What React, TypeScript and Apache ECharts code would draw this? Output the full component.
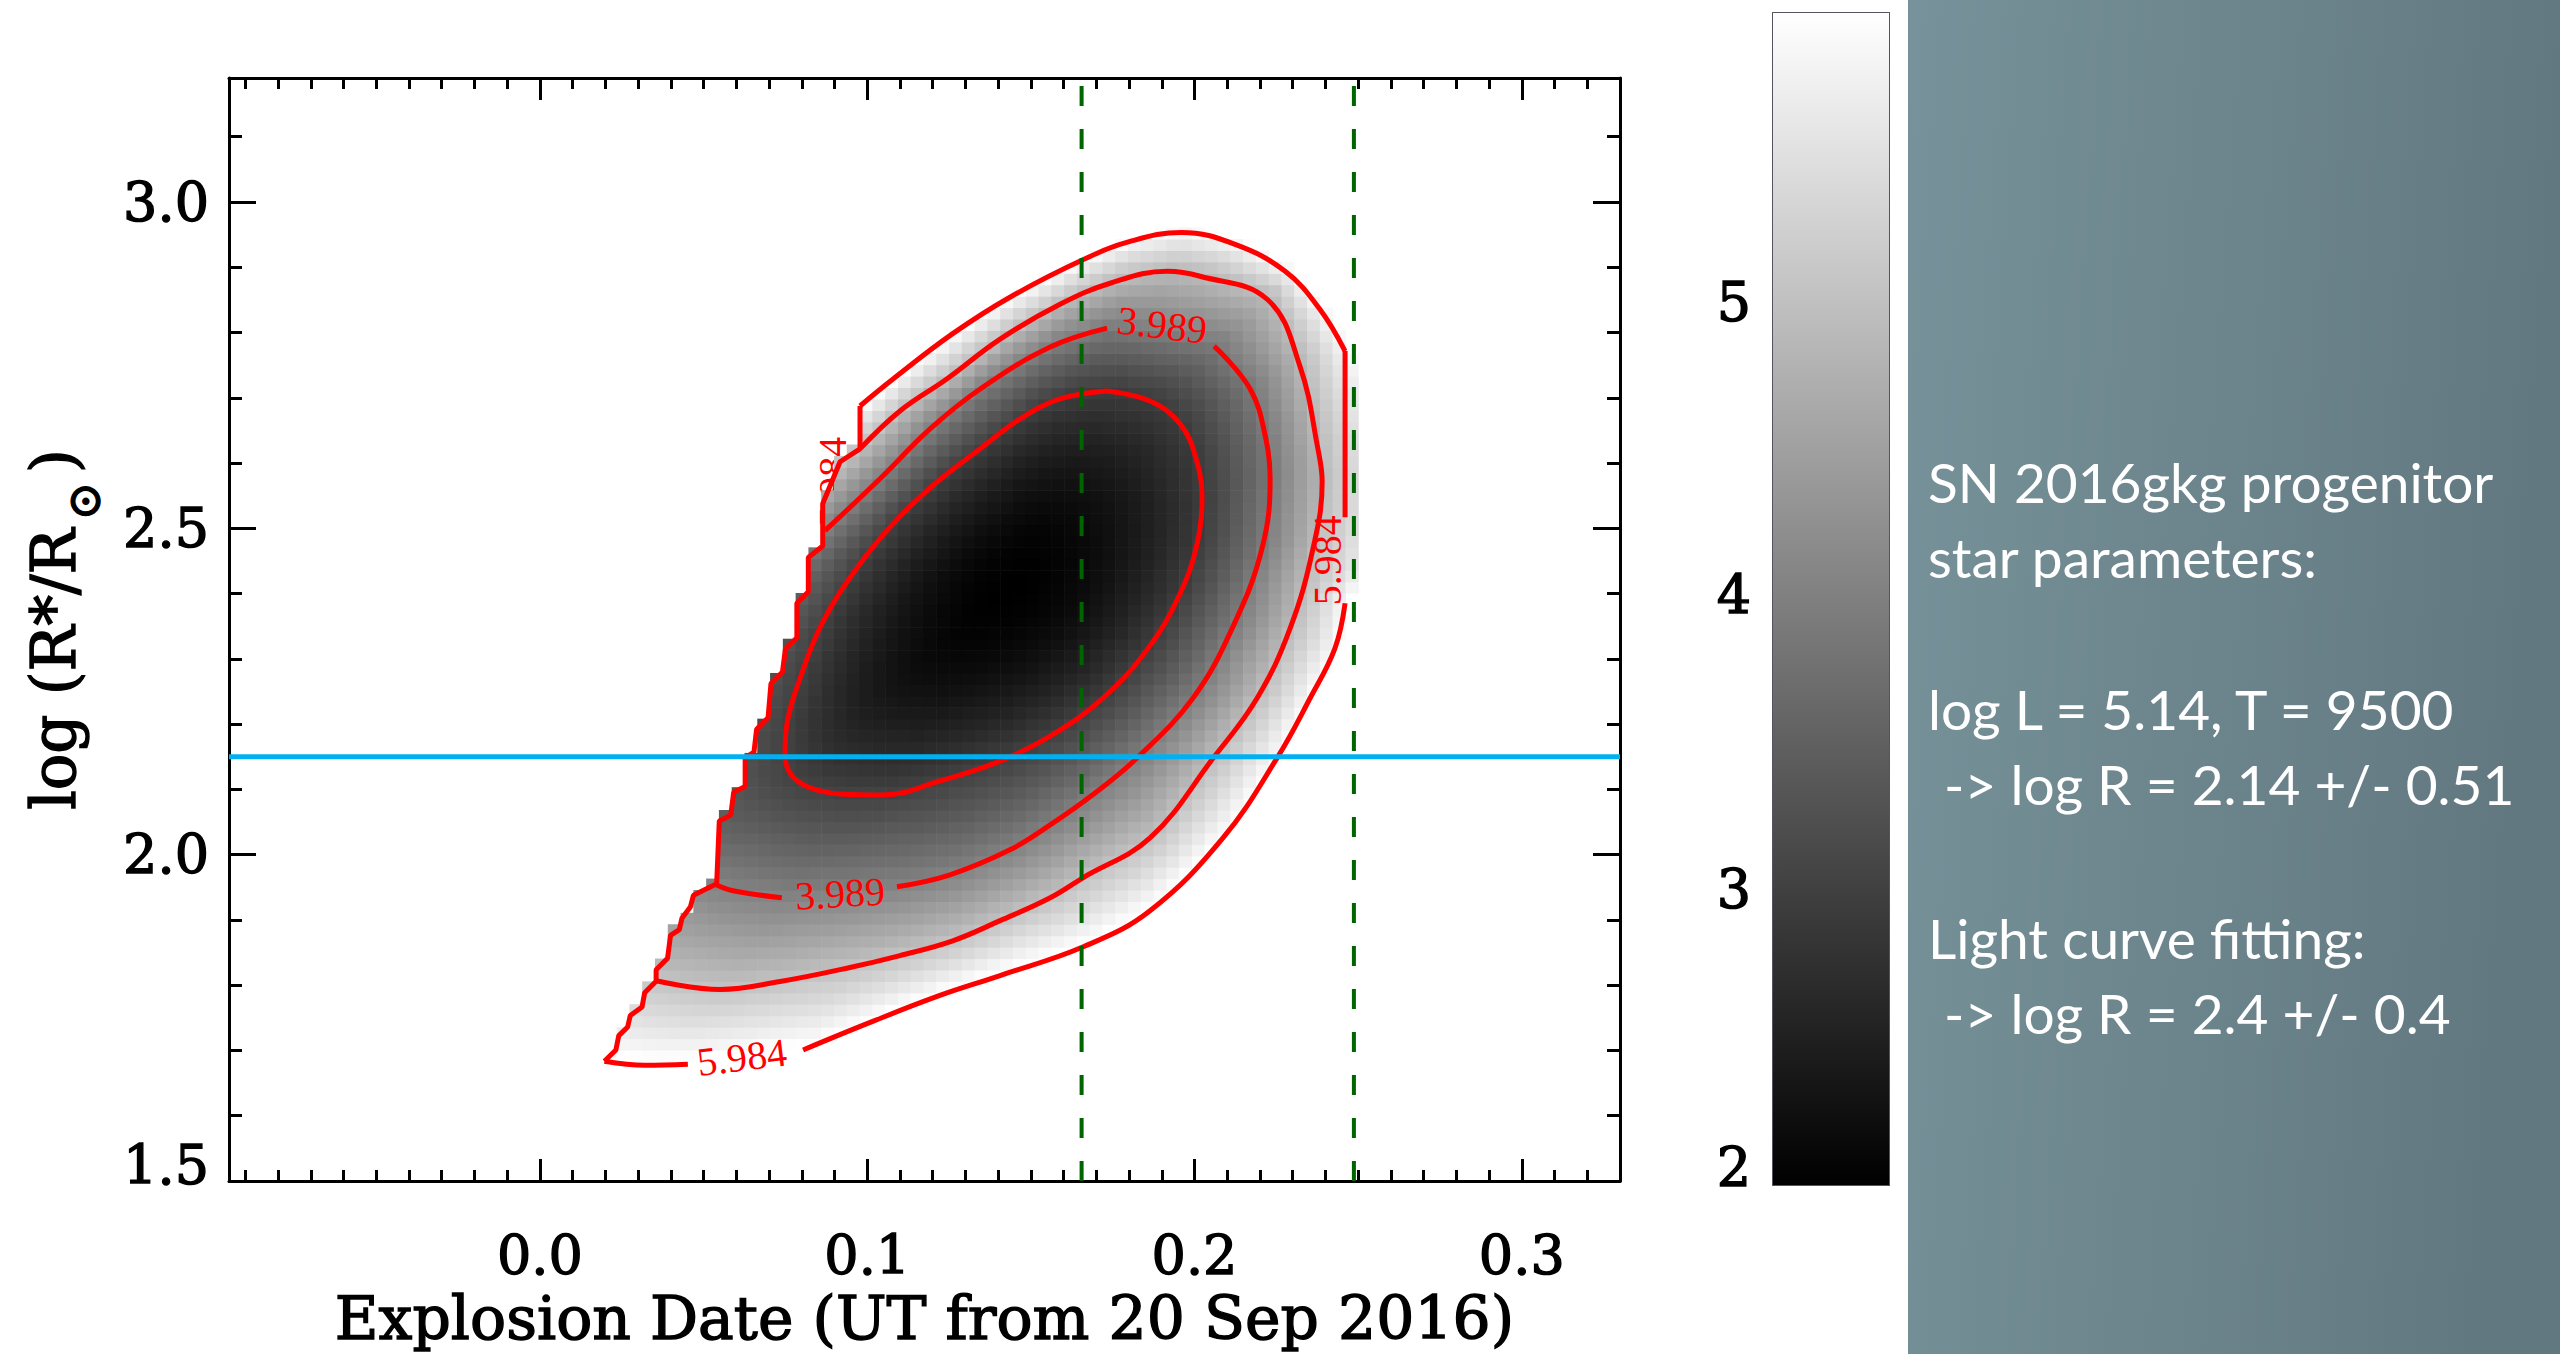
import React, { useEffect, useRef } from "react";
import * as echarts from "echarts";

// ---- axes -------------------------------------------------------------
const X_MIN = -0.095;
const X_MAX = 0.33;
const Y_MIN = 1.5;
const Y_MAX = 3.19;
const xMajorTicks = [0.0, 0.1, 0.2, 0.3];
const yMajorTicks = [1.5, 2.0, 2.5, 3.0];
const xMinorTicks: number[] = [];
for (let k = -9; k <= 32; k++) if (k % 10 !== 0) xMinorTicks.push(k / 100);
const yMinorTicks: number[] = [];
for (let k = 16; k <= 31; k++) if (k % 5 !== 0) yMinorTicks.push(k / 10);

// ---- colour bar -------------------------------------------------------
const barMin = 1.994;
const barMax = 5.984;
const barTicks = [2, 3, 4, 5];
const barMinorTicks = [2.5, 3.5, 4.5, 5.5];

// ---- chi-square surface ----------------------------------------------
const chiMin = 1.994;
const chiMinAt = [0.1415, 2.4];
const levels = [2.9915, 3.989, 4.9865, 5.984];

// model grid: explosion date step and log R step
const gridDX = 0.25 / 64;
const gridNX = 64;
const gridY0 = 1.6484;
const gridDY = 0.0175;
const gridNY = 77;

// innermost contour (closed)
const contour2991 = [
  [0.1733, 2.7104], [0.1589, 2.6982], [0.1467, 2.6676], [0.1345, 2.6218], [0.1207, 2.5683],
  [0.1082, 2.5087], [0.0963, 2.4353], [0.0862, 2.3543], [0.0795, 2.2703], [0.0755, 2.2015],
  [0.0749, 2.1572], [0.0764, 2.1251], [0.0819, 2.1037], [0.0917, 2.093], [0.1048, 2.0915],
  [0.1222, 2.1129], [0.1406, 2.1434], [0.1559, 2.1816], [0.172, 2.2397], [0.1858, 2.3161],
  [0.1956, 2.4002], [0.2008, 2.4766], [0.2023, 2.5438], [0.2005, 2.6065], [0.1956, 2.66],
  [0.1864, 2.6951], [0.1733, 2.7104],
];

// 3.989 contour, broken at its two labels
const contour3989a = [[0.054, 1.9534], [0.059, 1.9447], [0.0739, 1.934]];
const contour3989b = [
  [0.1091, 1.9508], [0.1253, 1.9692], [0.1436, 2.0074], [0.1559, 2.0456], [0.1696, 2.0945],
  [0.1824, 2.148], [0.1995, 2.2397], [0.2115, 2.3467], [0.2206, 2.4689], [0.2231, 2.5759],
  [0.2218, 2.6371], [0.217, 2.7135], [0.206, 2.7792],
];
const contour3989c = [
  [0.1733, 2.8067], [0.1559, 2.7777], [0.1345, 2.7135], [0.1192, 2.6523], [0.1039, 2.5759],
  [0.0871, 2.4965],
];

// 4.987 contour (unlabelled)
const contour4987 = [
  [0.0978, 2.6218], [0.11, 2.6798], [0.1243, 2.7288], [0.1406, 2.7899], [0.1589, 2.8434],
  [0.1742, 2.8755], [0.1916, 2.8938], [0.2017, 2.8862], [0.2222, 2.851], [0.2322, 2.7486],
  [0.2377, 2.6218], [0.239, 2.5713], [0.2362, 2.4689], [0.2292, 2.3467], [0.2191, 2.2397],
  [0.2057, 2.148], [0.1864, 2.0257], [0.1659, 1.9646], [0.1559, 1.934], [0.1406, 1.8989],
  [0.1259, 1.8676], [0.11, 1.8454], [0.0947, 1.8271], [0.0734, 1.8057], [0.055, 1.7934],
  [0.0352, 1.8072],
];

// 5.984 contour pieces
const contour5984a = [
  [0.0978, 2.6875], [0.1079, 2.7288], [0.1259, 2.7975], [0.1436, 2.8541], [0.1662, 2.9122],
  [0.1803, 2.9397], [0.196, 2.9534], [0.2124, 2.9351], [0.2277, 2.8938], [0.2383, 2.8357],
  [0.246, 2.7716],
];
const contour5984edge = [[0.246, 2.7716], [0.246, 2.5168]];
const contour5984b = [
  [0.246, 2.3852], [0.2429, 2.3161], [0.2353, 2.2397], [0.2252, 2.148], [0.2087, 2.0257],
  [0.1864, 1.9142], [0.1662, 1.8592], [0.1406, 1.8148], [0.1222, 1.7843], [0.1009, 1.743],
  [0.0804, 1.7008],
];
const contour5984c = [[0.0452, 1.6788], [0.0321, 1.6773], [0.0197, 1.6834]];

// edge of the computed region (earliest allowed explosion date for each radius)
const dataEdge = [
  [0.0978, 2.6875], [0.0978, 2.6218], [0.0917, 2.602], [0.0864, 2.5377], [0.0864, 2.4729],
  [0.082, 2.4553], [0.082, 2.4028], [0.0785, 2.3852], [0.0785, 2.3325], [0.075, 2.315],
  [0.0741, 2.2799], [0.0706, 2.2623], [0.0697, 2.2097], [0.0662, 2.1922], [0.0654, 2.1572],
  [0.0627, 2.1483], [0.0627, 2.1044], [0.0592, 2.0957], [0.0583, 2.0606], [0.0548, 2.0517],
  [0.054, 1.9553], [0.0469, 1.9377], [0.046, 1.9203], [0.0434, 1.9027], [0.0426, 1.8851],
  [0.0399, 1.8764], [0.039, 1.8413], [0.0355, 1.8237], [0.0355, 1.8061], [0.032, 1.7885],
  [0.0312, 1.7667], [0.0276, 1.7535], [0.0268, 1.736], [0.0241, 1.7228], [0.0232, 1.7008],
  [0.0197, 1.6834],
];

// continuation of the contours outside the computed region (shading only)
const contour3989hidden = [
  [0.0749, 2.4353], [0.0627, 2.3589], [0.0504, 2.2703], [0.0397, 2.1786], [0.0306, 2.0869],
  [0.026, 2.0257], [0.0306, 1.9799], [0.0428, 1.9615],
];
const contour4987hidden = [
  [0.0184, 1.8347], [0.0061, 1.8882], [0.0061, 1.9799], [0.0153, 2.1021], [0.0306, 2.2397],
  [0.0489, 2.362], [0.0672, 2.4766], [0.0841, 2.5606],
];
const contour5984hidden = [
  [0.0016, 1.7048], [-0.0091, 1.7812], [-0.0076, 1.9035], [0.0031, 2.0716], [0.0184, 2.2244],
  [0.0367, 2.362], [0.0581, 2.4995], [0.0795, 2.6218],
];
const contour5984beyond = [[0.2521, 2.6982], [0.2573, 2.5912], [0.2582, 2.5148], [0.2542, 2.4307]];

// contour labels: position, rotation, level index
const contourLabels = [
  { at: [0.0617, 1.6895], rot: 0.12, level: 3, under: false },
  { at: [0.2405, 2.4511], rot: Math.PI / 2, level: 3, under: false },
  { at: [0.0895, 2.5713], rot: Math.PI / 2, level: 3, under: true },
  { at: [0.0917, 1.9402], rot: 0.06, level: 1, under: false },
  { at: [0.1901, 2.8113], rot: -0.12, level: 1, under: false },
];

// reference markers
const dateLines = [0.1655, 0.2487];
const luminosityLogR = 2.15;

// side panel text
const panelLines = [
  { text: "SN 2016gkg progenitor", y: 482, x: 1928 },
  { text: "star parameters:", y: 557, x: 1928 },
  { text: "log L = 5.14, T = 9500", y: 709, x: 1928 },
  { text: "-> log R = 2.14 +/- 0.51", y: 784, x: 1944 },
  { text: "Light curve fitting:", y: 938, x: 1928 },
  { text: "-> log R = 2.4 +/- 0.4", y: 1013, x: 1944 },
];

const SERIF = '"DejaVu Serif", "Liberation Serif", serif';
const LABEL_SERIF = '"Liberation Serif", "DejaVu Serif", serif';
const SANS = 'Lato, "Open Sans", sans-serif';

function grayOf(v: number) {
  let f = (v - barMin) / (barMax - barMin);
  f = Math.max(0, Math.min(1, f));
  const g = Math.round(f * 255);
  return `rgb(${g},${g},${g})`;
}

const KY = 0.2;
function rayParam(poly: number[][], cx: number, cy: number, dx: number, dy: number) {
  let best = Infinity;
  for (let k = 0; k < poly.length; k++) {
    const a = poly[k];
    const b = poly[(k + 1) % poly.length];
    const ax = a[0] - cx;
    const ay = (a[1] - cy) * KY;
    const ex = b[0] - a[0];
    const ey = (b[1] - a[1]) * KY;
    const den = dx * ey - dy * ex;
    if (Math.abs(den) < 1e-15) continue;
    const t = (ax * ey - ay * ex) / den;
    const u = (ax * dy - ay * dx) / den;
    if (u >= 0 && u <= 1 && t > 0 && t < best) best = t;
  }
  return best;
}

function edgeXAt(y: number) {
  if (y >= dataEdge[0][1]) return dataEdge[0][0];
  for (let k = 0; k < dataEdge.length - 1; k++) {
    const a = dataEdge[k];
    const b = dataEdge[k + 1];
    if (y <= a[1] && y >= b[1]) {
      const f = (a[1] - y) / (a[1] - b[1]);
      return a[0] + (b[0] - a[0]) * f;
    }
  }
  return dataEdge[dataEdge.length - 1][0];
}

function buildCells() {
  const polys = [
    contour2991,
    [...contour3989a, ...contour3989b, ...contour3989c, ...contour3989hidden],
    [...contour4987, ...contour4987hidden],
    [...contour5984a, ...contour5984beyond, ...contour5984b, ...contour5984c, ...contour5984hidden],
  ];
  const s = levels.map((l) => Math.sqrt(l - chiMin));
  const [cx, cy] = chiMinAt;
  const cells: number[][] = [];
  for (let i = 0; i < gridNX; i++) {
    for (let j = 0; j < gridNY; j++) {
      const x = i * gridDX;
      const y = gridY0 + j * gridDY;
      if (x < edgeXAt(y) - 0.35 * gridDX) continue;
      const dx = x - cx;
      const dy = (y - cy) * KY;
      let sv = 0;
      if (Math.abs(dx) + Math.abs(dy) > 1e-12) {
        const t = polys.map((p) => rayParam(p, cx, cy, dx, dy));
        if (t[0] >= 1) sv = s[0] / t[0];
        else {
          let k = 0;
          while (k < 3 && t[k + 1] < 1) k++;
          if (k < 3) sv = s[k] + ((s[k + 1] - s[k]) * (1 - t[k])) / (t[k + 1] - t[k]);
          else sv = s[3] + ((s[3] - s[2]) * (1 - t[3])) / (t[3] - t[2]);
        }
      }
      const v = chiMin + sv * sv;
      if (v >= levels[3]) continue;
      cells.push([x, y, v]);
    }
  }
  return cells;
}

function tickAxis(kind: "x" | "y", opts: any) {
  const base: any = {
    type: "value",
    splitLine: { show: false },
    axisLine: { show: false, onZero: false, lineStyle: { color: "#000", width: 3 } },
    axisTick: { show: true, inside: true, lineStyle: { color: "#000", width: 3 } },
    axisLabel: { show: false },
  };
  const o = { ...base, ...opts };
  o.axisLine = { ...base.axisLine, ...(opts.axisLine || {}) };
  o.axisTick = { ...base.axisTick, ...(opts.axisTick || {}) };
  o.axisLabel = { ...base.axisLabel, ...(opts.axisLabel || {}) };
  return o;
}

export default function App() {
  const ref = useRef<HTMLDivElement>(null);
  useEffect(() => {
    if (!ref.current) return;
    const chart = echarts.init(ref.current, null, { renderer: "svg" });
    const cells = buildCells();

    const heavy = { textBorderColor: "#000", textBorderWidth: 1.4 };
    const tickLabel = {
      show: true,
      color: "#000",
      fontFamily: SERIF,
      fontSize: 54,
      ...heavy,
    };
    // the lowest label of a vertical axis sits a little above its tick
    const lowRich = {
      lo: { fontFamily: SERIF, fontSize: 54, color: "#000", padding: [0, 0, 32, 0], ...heavy },
    };

    const xAxes = [
      tickAxis("x", {
        gridIndex: 0, min: X_MIN, max: X_MAX, position: "bottom",
        axisLine: { show: true },
        axisTick: { length: 22, customValues: xMajorTicks },
        axisLabel: { ...tickLabel, customValues: xMajorTicks, margin: 47, formatter: (v: number) => v.toFixed(1) },
        name: "Explosion Date (UT from 20 Sep 2016)",
        nameLocation: "middle",
        nameGap: 98,
        nameTextStyle: { color: "#000", fontFamily: SERIF, fontSize: 60, ...heavy },
      }),
      tickAxis("x", { gridIndex: 0, min: X_MIN, max: X_MAX, position: "bottom", axisTick: { length: 11, customValues: xMinorTicks } }),
      tickAxis("x", { gridIndex: 0, min: X_MIN, max: X_MAX, position: "top", axisLine: { show: true }, axisTick: { length: 22, customValues: xMajorTicks } }),
      tickAxis("x", { gridIndex: 0, min: X_MIN, max: X_MAX, position: "top", axisTick: { length: 11, customValues: xMinorTicks } }),
      tickAxis("x", { gridIndex: 1, min: 0, max: 1, position: "bottom", axisLine: { show: true, lineStyle: { width: 2 } }, axisTick: { show: false } }),
      tickAxis("x", { gridIndex: 1, min: 0, max: 1, position: "top", axisLine: { show: true, lineStyle: { width: 2 } }, axisTick: { show: false } }),
    ];

    const yAxes = [
      tickAxis("y", {
        gridIndex: 0, min: Y_MIN, max: Y_MAX, position: "left",
        axisLine: { show: true },
        axisTick: { length: 27, customValues: yMajorTicks },
        axisLabel: {
          ...tickLabel,
          customValues: yMajorTicks,
          margin: 20,
          formatter: (v: number) => (v === Y_MIN ? `{lo|${v.toFixed(1)}}` : v.toFixed(1)),
          rich: lowRich,
        },
        name: "{a|log (R*/R}{b|⊙}{a|)}",
        nameLocation: "middle",
        nameGap: 122,
        nameRotate: 90,
        nameTextStyle: {
          rich: {
            a: { fontFamily: SERIF, fontSize: 61, color: "#000", verticalAlign: "top", lineHeight: 84, ...heavy },
            b: { fontFamily: SERIF, fontSize: 46, color: "#000", verticalAlign: "top", lineHeight: 46, padding: [38, 9, 0, 8], ...heavy },
          },
        },
      }),
      tickAxis("y", { gridIndex: 0, min: Y_MIN, max: Y_MAX, position: "left", axisTick: { length: 13, customValues: yMinorTicks } }),
      tickAxis("y", { gridIndex: 0, min: Y_MIN, max: Y_MAX, position: "right", axisLine: { show: true }, axisTick: { length: 27, customValues: yMajorTicks } }),
      tickAxis("y", { gridIndex: 0, min: Y_MIN, max: Y_MAX, position: "right", axisTick: { length: 13, customValues: yMinorTicks } }),
      tickAxis("y", {
        gridIndex: 1, min: barMin, max: barMax, position: "left",
        axisLine: { show: true, lineStyle: { width: 2 } },
        axisTick: { length: 28, customValues: barTicks, lineStyle: { width: 1.5 } },
        axisLabel: {
          ...tickLabel,
          customValues: barTicks,
          margin: 22,
          formatter: (v: number) => (v === barTicks[0] ? `{lo|${v}}` : String(v)),
          rich: lowRich,
        },
      }),
      tickAxis("y", { gridIndex: 1, min: barMin, max: barMax, position: "left", axisTick: { length: 14, customValues: barMinorTicks, lineStyle: { width: 1.5 } } }),
      tickAxis("y", { gridIndex: 1, min: barMin, max: barMax, position: "right", axisLine: { show: true, lineStyle: { width: 2 } }, axisTick: { length: 6, customValues: barMinorTicks, lineStyle: { width: 1.5 } } }),
    ];

    const contourLine = (data: number[][], smooth: number | boolean) => ({
      type: "line",
      xAxisIndex: 0,
      yAxisIndex: 0,
      data,
      symbol: "none",
      smooth,
      silent: true,
      z: 3,
      lineStyle: { color: "#ff0000", width: 5 },
    });

    const labelSeries = (under: boolean) => {
      const list = contourLabels.filter((l) => l.under === under);
      return {
        type: "custom",
        xAxisIndex: 0,
        yAxisIndex: 0,
        z: under ? 1 : 4,
        silent: true,
        data: list.map((l) => l.at),
        renderItem: (params: any, api: any) => {
          const l = list[params.dataIndex];
          const p = api.coord([api.value(0), api.value(1)]);
          return {
            type: "text",
            x: p[0],
            y: p[1],
            rotation: l.rot,
            style: {
              text: levels[l.level].toFixed(3),
              fill: "#ff0000",
              fontFamily: LABEL_SERIF,
              fontSize: 40,
              align: "center",
              verticalAlign: "middle",
            },
          };
        },
      };
    };

    const series: any[] = [
      labelSeries(true),
      {
        type: "custom",
        xAxisIndex: 0,
        yAxisIndex: 0,
        z: 2,
        silent: true,
        progressive: 0,
        data: cells,
        encode: { x: 0, y: 1 },
        renderItem: (params: any, api: any) => {
          const x = api.value(0);
          const y = api.value(1);
          const v = api.value(2);
          const p0 = api.coord([x, y + gridDY]);
          const p1 = api.coord([x + gridDX, y]);
          return {
            type: "rect",
            shape: { x: p0[0], y: p0[1], width: p1[0] - p0[0] + 0.6, height: p1[1] - p0[1] + 0.6 },
            style: { fill: grayOf(v) },
          };
        },
      },
      contourLine(contour2991, 0.4),
      contourLine(contour3989a, 0.4),
      contourLine(contour3989b, 0.4),
      contourLine(contour3989c, 0.4),
      contourLine(contour4987, 0.4),
      contourLine(contour5984a, 0.4),
      contourLine(contour5984edge, false),
      contourLine(contour5984b, 0.4),
      contourLine(contour5984c, 0.4),
      contourLine(dataEdge, false),
      labelSeries(false),
      ...dateLines.map((d) => ({
        type: "line",
        xAxisIndex: 0,
        yAxisIndex: 0,
        data: [[d, Y_MIN], [d, Y_MAX]],
        symbol: "none",
        silent: true,
        z: 5,
        lineStyle: { color: "#006400", width: 4, type: [20, 23] },
      })),
      {
        type: "line",
        xAxisIndex: 0,
        yAxisIndex: 0,
        data: [[X_MIN, luminosityLogR], [X_MAX, luminosityLogR]],
        symbol: "none",
        silent: true,
        z: 6,
        lineStyle: { color: "#00b0f0", width: 5 },
      },
      {
        type: "custom",
        xAxisIndex: 4,
        yAxisIndex: 4,
        silent: true,
        z: 1,
        data: [[0, barMin, 1, barMax]],
        renderItem: (params: any, api: any) => {
          const p0 = api.coord([api.value(0), api.value(3)]);
          const p1 = api.coord([api.value(2), api.value(1)]);
          return {
            type: "rect",
            shape: { x: p0[0], y: p0[1], width: p1[0] - p0[0], height: p1[1] - p0[1] },
            style: {
              fill: new echarts.graphic.LinearGradient(0, 0, 0, 1, [
                { offset: 0, color: grayOf(barMax) },
                { offset: 1, color: grayOf(barMin) },
              ]),
            },
          };
        },
      },
    ];

    const option: any = {
      animation: false,
      backgroundColor: "#ffffff",
      grid: [
        { left: 229, top: 78, width: 1391, height: 1106 },
        { left: 1773, top: 13, width: 116, height: 1172 },
      ],
      xAxis: xAxes,
      yAxis: yAxes,
      series,
      graphic: {
        elements: [
          {
            type: "rect",
            silent: true,
            shape: { x: 1908, y: 0, width: 652, height: 1354 },
            style: {
              fill: new echarts.graphic.LinearGradient(0, 0, 1, 0.15, [
                { offset: 0, color: "#77929a" },
                { offset: 1, color: "#627880" },
              ]),
            },
          },
          ...panelLines.map((l) => ({
            type: "text",
            silent: true,
            x: l.x,
            y: l.y,
            style: {
              text: l.text,
              fill: "#ffffff",
              fontFamily: SANS,
              fontSize: 55,
              verticalAlign: "middle",
            },
          })),
        ],
      },
    };
    chart.setOption(option);
    return () => chart.dispose();
  }, []);
  return (
    <div
      ref={ref}
      style={{ position: "fixed", left: 0, top: 0, width: 2560, height: 1354 }}
    />
  );
}
